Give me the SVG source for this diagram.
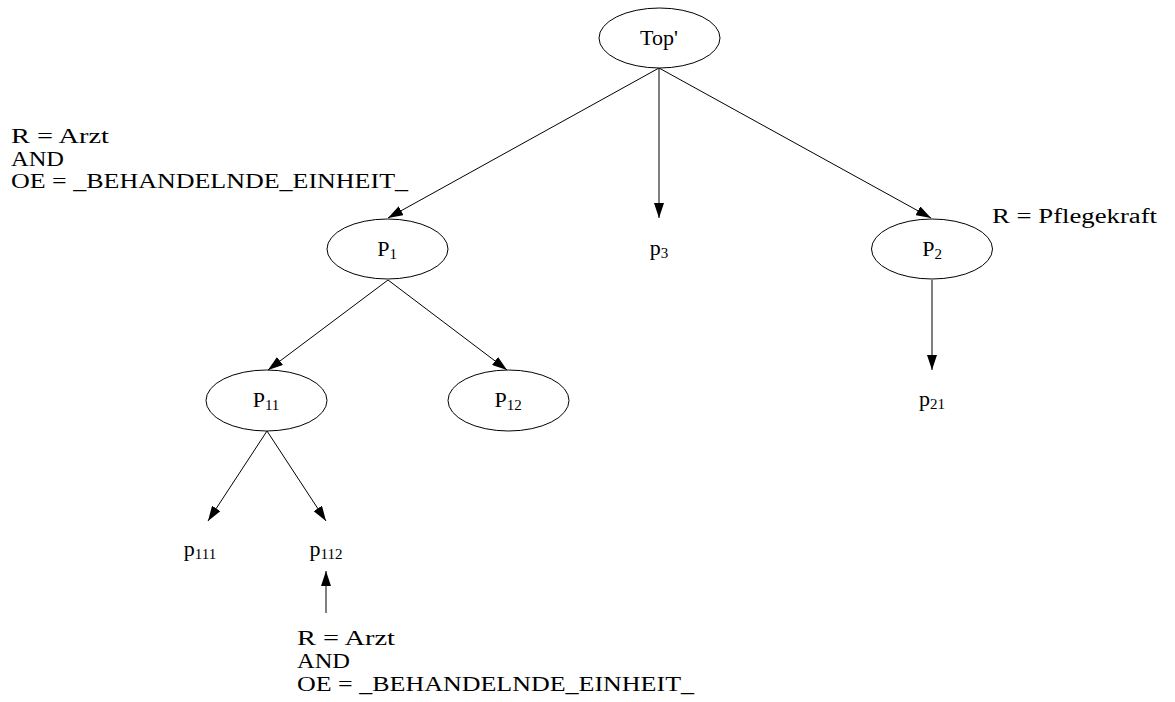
<svg xmlns="http://www.w3.org/2000/svg" width="1175" height="702" viewBox="0 0 1175 702">
<style>
text{font-family:"Liberation Serif","Times New Roman",serif;font-size:22px;fill:#000}
.n{text-anchor:middle}
.s{font-size:15px}
.l{font-size:20px}
ellipse{fill:#fff;stroke:#000;stroke-width:1}
.e{stroke:#000;stroke-width:1;fill:none;marker-end:url(#ah)}
</style>
<defs>
<marker id="ah" markerUnits="userSpaceOnUse" markerWidth="16" markerHeight="10" refX="15" refY="5" orient="auto">
<path d="M0,0 L15,5 L0,10 Z" fill="#000"/>
</marker>
</defs>
<g id="connectors">
<line class="e" x1="659" y1="68" x2="388" y2="218"/>
<line class="e" x1="659" y1="68" x2="659" y2="218"/>
<line class="e" x1="659" y1="68" x2="931" y2="218"/>
<line class="e" x1="388" y1="280" x2="268" y2="370"/>
<line class="e" x1="388" y1="280" x2="507" y2="370"/>
<line class="e" x1="932" y1="280" x2="932" y2="370"/>
<line class="e" x1="267" y1="431" x2="208" y2="521"/>
<line class="e" x1="267" y1="431" x2="326" y2="521"/>
<line class="e" x1="326" y1="613" x2="326" y2="571"/>
</g>
<g id="top"><ellipse cx="659.5" cy="38" rx="60.5" ry="30"/><text class="n" x="659" y="45">Top'</text></g>
<g id="P1"><ellipse cx="387.5" cy="249" rx="60.5" ry="30"/><text class="n" x="387" y="256">P<tspan class="s" dy="3">1</tspan></text></g>
<g id="p3"><text class="n" x="659" y="255">p<tspan class="s" dy="3">3</tspan></text></g>
<g id="P2"><ellipse cx="932" cy="249" rx="60.5" ry="30"/><text class="n" x="932" y="256">P<tspan class="s" dy="3">2</tspan></text></g>
<g id="P11"><ellipse cx="266.5" cy="400.5" rx="60.5" ry="30.5"/><text class="n" x="266" y="407">P<tspan class="s" dy="3">11</tspan></text></g>
<g id="P12"><ellipse cx="508.5" cy="400.5" rx="60.5" ry="30.5"/><text class="n" x="508" y="407">P<tspan class="s" dy="3">12</tspan></text></g>
<g id="p21"><text class="n" x="932" y="406">p<tspan class="s" dy="3">21</tspan></text></g>
<g id="p111"><text class="n" x="200" y="556">p<tspan class="s" dy="3">111</tspan></text></g>
<g id="p112"><text class="n" x="326" y="556">p<tspan class="s" dy="3">112</tspan></text></g>
<g id="label1">
<text class="l" x="11" y="143" textLength="98" lengthAdjust="spacingAndGlyphs">R = Arzt</text>
<text class="l" x="11" y="165.5" textLength="53" lengthAdjust="spacingAndGlyphs">AND</text>
<text class="l" x="11" y="188" textLength="397" lengthAdjust="spacingAndGlyphs">OE = _BEHANDELNDE_EINHEIT_</text>
</g>
<g id="label2"><text class="l" x="992" y="223" textLength="165" lengthAdjust="spacingAndGlyphs">R = Pflegekraft</text></g>
<g id="label3">
<text class="l" x="297" y="645" textLength="98" lengthAdjust="spacingAndGlyphs">R = Arzt</text>
<text class="l" x="297" y="668" textLength="53" lengthAdjust="spacingAndGlyphs">AND</text>
<text class="l" x="297" y="691" textLength="397" lengthAdjust="spacingAndGlyphs">OE = _BEHANDELNDE_EINHEIT_</text>
</g>
</svg>
